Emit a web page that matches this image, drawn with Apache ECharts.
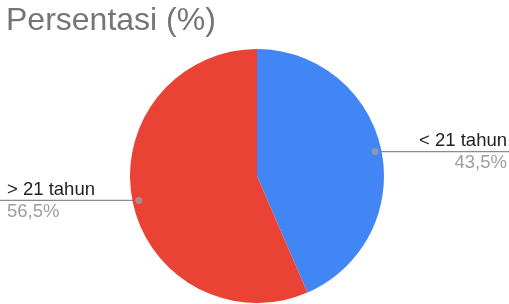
<!DOCTYPE html>
<html>
<head>
<meta charset="utf-8">
<script src="https://cdn.jsdelivr.net/npm/echarts@6/dist/echarts.min.js"></script>
<style>
  html, body { margin: 0; padding: 0; background: #fff; }
  #chart { width: 509px; height: 304px; }
</style>
</head>
<body>
<div id="chart"></div>
<script>
// data
var categories = ['< 21 tahun', '> 21 tahun'];
var values = [43.5, 56.5];
var pctLabels = ['43,5%', '56,5%'];

var W = 509;
var CX = 257, CY = 176, R = 127;
var DOT = 0.95;

var total = values.reduce(function (a, b) { return a + b; }, 0);
// midpoint of every slice, as a fraction of the full circle
var mids = [];
var acc = 0;
values.forEach(function (v) {
  mids.push((acc + v / 2) / total);
  acc += v;
});

var chart = echarts.init(document.getElementById('chart'));
var font = '"Liberation Sans", Arial, sans-serif';

chart.setOption({
  animation: false,
  title: {
    text: 'Persentasi (%)',
    left: 6,
    top: 5,
    padding: 0,
    textStyle: { fontFamily: font, fontSize: 32, fontWeight: 'normal', color: '#757575' }
  },
  polar: { center: [CX, CY], radius: R },
  angleAxis: {
    type: 'value', min: 0, max: 100, startAngle: 90, clockwise: true,
    show: false, axisLine: { show: false }, splitLine: { show: false }
  },
  radiusAxis: {
    type: 'value', min: 0, max: 1,
    show: false, axisLine: { show: false }, splitLine: { show: false }
  },
  series: [{
    type: 'pie',
    center: [CX, CY],
    radius: R,
    startAngle: 90,
    clockwise: true,
    silent: true,
    color: ['#4285F4', '#EA4335'],
    data: categories.map(function (c, i) { return { name: c, value: values[i] }; }),
    label: {
      show: true,
      position: 'outside',
      fontFamily: font,
      formatter: function (p) {
        var s = Math.sin(mids[p.dataIndex] * 2 * Math.PI) > 0 ? 'R' : 'L';
        return '{n' + s + '|' + p.name + '}\n{p' + s + '|' + pctLabels[p.dataIndex] + '}';
      },
      rich: {
        nR: { fontFamily: font, fontSize: 18.5, color: '#222222', lineHeight: 22, align: 'right' },
        pR: { fontFamily: font, fontSize: 18.5, color: '#9E9E9E', lineHeight: 22, align: 'right' },
        nL: { fontFamily: font, fontSize: 18.5, color: '#222222', lineHeight: 22, align: 'left' },
        pL: { fontFamily: font, fontSize: 18.5, color: '#9E9E9E', lineHeight: 22, align: 'left' }
      }
    },
    labelLine: { show: true, length: 0, length2: 10, lineStyle: { color: '#8C8C8C', width: 1.3 } },
    labelLayout: function (params) {
      var a = mids[params.dataIndex] * 2 * Math.PI;
      var px = CX + R * DOT * Math.sin(a);
      var py = CY - R * DOT * Math.cos(a);
      var right = Math.sin(a) > 0;
      return {
        x: right ? W - 2 : 7,
        y: py,
        align: right ? 'right' : 'left',
        verticalAlign: 'middle',
        labelLinePoints: [[px, py], [px, py], [right ? W : 0, py]]
      };
    }
  }, {
    type: 'scatter',
    coordinateSystem: 'polar',
    silent: true,
    z: 5,
    symbolSize: 7,
    itemStyle: { color: '#9E9E9E' },
    data: mids.map(function (m) { return [DOT, m * 100]; })
  }]
});
</script>
</body>
</html>
